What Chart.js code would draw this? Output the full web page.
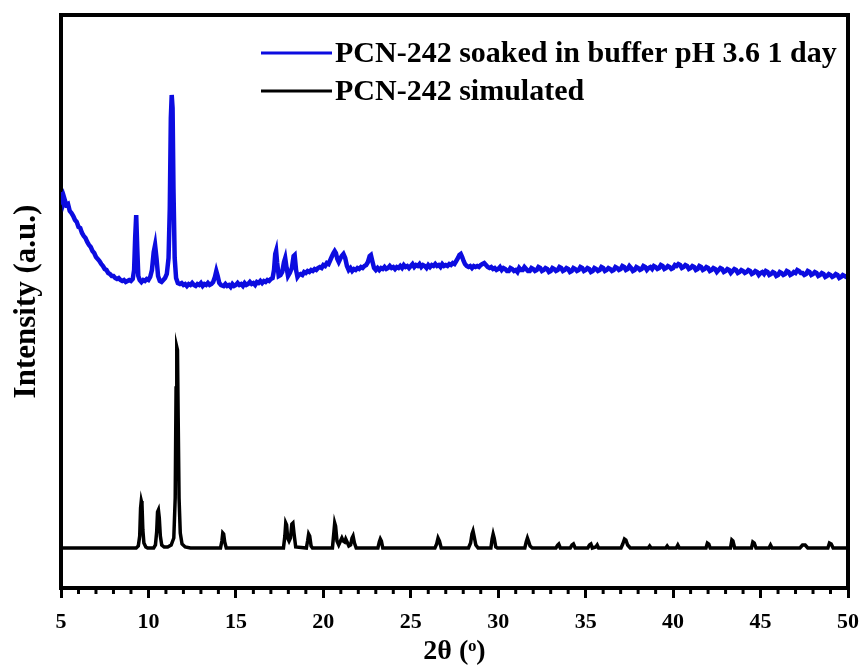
<!DOCTYPE html>
<html>
<head>
<meta charset="utf-8">
<script src="https://cdn.jsdelivr.net/npm/chart.js@4.4.1/dist/chart.umd.min.js"></script>
<style>
  html, body { margin: 0; padding: 0; background: #fff; }
  #wrap { width: 864px; height: 669px; }
</style>
</head>
<body>
<div id="wrap"><canvas id="xrdChart" width="864" height="669"></canvas></div>
<script>
// tick labels / axis range
const xTicks = [5, 10, 15, 20, 25, 30, 35, 40, 45, 50];
const seriesLabels = ['PCN-242 soaked in buffer pH 3.6 1 day', 'PCN-242 simulated'];

// measured pattern, [2theta, intensity a.u.]
const soaked = [
  [5.00,396],[5.05,390],[5.10,392],[5.15,386],[5.20,389],[5.30,383],[5.40,384],[5.50,377],[5.60,375],[5.70,372],
  [5.80,368],[5.90,366],[6.00,361],[6.10,360],[6.20,355],[6.30,352],[6.40,350],[6.50,346],[6.60,343],[6.70,341],
  [6.80,337],[6.90,335],[7.00,331],[7.10,329],[7.20,327],[7.30,324],[7.40,322],[7.50,319],[7.60,318],[7.70,315],
  [7.80,314],[7.90,312],[8.00,312],[8.10,310],[8.20,309],[8.30,310],[8.40,308],[8.50,307],[8.60,308],[8.70,306],
  [8.80,307],[8.90,308],[9.00,307],[9.10,309],[9.18,318],[9.24,350],[9.30,373],[9.36,340],[9.42,312],[9.50,308],
  [9.60,306],[9.70,308],[9.80,307],[9.90,309],[10.00,308],[10.10,311],[10.20,318],[10.30,336],[10.38,343],[10.46,330],
  [10.55,312],[10.65,307],[10.75,306],[10.85,308],[10.95,310],[11.05,314],[11.15,330],[11.22,380],[11.28,470],[11.33,493],
  [11.38,480],[11.43,400],[11.50,330],[11.58,310],[11.68,305],[11.80,304],[11.90,305],[12.00,303],[12.10,304],[12.20,302],
  [12.30,304],[12.40,303],[12.50,305],[12.60,303],[12.70,302],[12.80,304],[12.90,303],[13.00,305],[13.10,302],[13.20,304],
  [13.30,303],[13.40,305],[13.50,303],[13.60,304],[13.70,306],[13.80,311],[13.88,317],[13.96,312],[14.05,305],[14.15,303],
  [14.30,302],[14.40,304],[14.50,302],[14.60,303],[14.70,301],[14.80,304],[14.90,302],[15.00,303],[15.10,305],[15.20,303],
  [15.30,304],[15.40,302],[15.50,305],[15.60,303],[15.70,304],[15.80,306],[15.90,304],[16.00,305],[16.10,303],[16.20,306],
  [16.30,305],[16.40,307],[16.50,305],[16.60,307],[16.70,306],[16.80,308],[16.90,307],[17.00,309],[17.10,310],[17.18,318],
  [17.25,334],[17.30,337],[17.36,325],[17.45,312],[17.55,313],[17.65,316],[17.75,326],[17.82,330],[17.90,320],[17.98,312],
  [18.08,315],[18.20,320],[18.30,332],[18.36,333],[18.44,318],[18.52,311],[18.60,313],[18.70,314],[18.80,313],[18.90,316],
  [19.00,315],[19.10,317],[19.20,316],[19.30,318],[19.40,317],[19.50,319],[19.60,318],[19.70,320],[19.80,321],[19.90,320],
  [20.00,323],[20.10,322],[20.20,325],[20.30,324],[20.40,328],[20.50,332],[20.58,335],[20.65,337],[20.72,335],[20.80,329],
  [20.88,326],[20.96,329],[21.05,332],[21.15,334],[21.25,330],[21.35,322],[21.45,318],[21.55,320],[21.65,317],[21.75,319],
  [21.85,318],[21.95,320],[22.05,319],[22.15,321],[22.25,320],[22.35,322],[22.45,323],[22.55,326],[22.65,332],[22.72,333],
  [22.80,327],[22.90,320],[23.00,318],[23.10,320],[23.20,318],[23.30,320],[23.40,319],[23.50,321],[23.60,319],[23.70,320],
  [23.80,322],[23.90,320],[24.00,321],[24.10,319],[24.20,321],[24.30,320],[24.40,322],[24.50,320],[24.60,323],[24.70,321],
  [24.80,322],[24.90,320],[25.00,322],[25.10,324],[25.20,321],[25.30,323],[25.40,322],[25.50,324],[25.60,321],[25.70,323],
  [25.80,322],[25.90,320],[26.00,323],[26.10,321],[26.20,323],[26.30,322],[26.40,324],[26.50,322],[26.60,323],[26.70,321],
  [26.80,324],[26.90,322],[27.00,323],[27.10,322],[27.20,324],[27.30,323],[27.40,325],[27.50,324],[27.60,327],[27.70,330],
  [27.78,333],[27.86,334],[27.94,331],[28.02,327],[28.10,324],[28.20,322],[28.30,321],[28.40,322],[28.50,320],[28.60,322],
  [28.70,321],[28.80,322],[28.90,321],[29.00,323],[29.10,324],[29.20,325],[29.30,323],[29.40,321],[29.50,320],[29.60,321],
  [29.70,319],[29.80,320],[29.90,318],[30.00,319],[30.10,321],[30.20,318],[30.30,320],[30.40,319],[30.50,317],[30.60,317],
  [30.70,320],[30.80,319],[30.90,317],[31.00,318],[31.10,316],[31.20,320],[31.30,318],[31.40,318],[31.50,321],[31.60,319],
  [31.70,317],[31.80,317],[31.90,320],[32.00,319],[32.10,317],[32.20,318],[32.30,321],[32.40,320],[32.50,317],[32.60,318],
  [32.70,320],[32.80,319],[32.90,316],[33.00,317],[33.10,320],[33.20,319],[33.30,317],[33.40,318],[33.50,321],[33.60,320],
  [33.70,317],[33.80,318],[33.90,320],[34.00,319],[34.10,316],[34.20,317],[34.30,320],[34.40,319],[34.50,317],[34.60,318],
  [34.70,321],[34.80,320],[34.90,317],[35.00,318],[35.10,320],[35.20,319],[35.30,316],[35.40,317],[35.50,320],[35.60,319],
  [35.70,317],[35.80,318],[35.90,321],[36.00,320],[36.10,317],[36.20,318],[36.30,320],[36.40,319],[36.50,317],[36.60,318],
  [36.70,321],[36.80,320],[36.90,318],[37.00,319],[37.10,322],[37.20,321],[37.30,318],[37.40,319],[37.50,322],[37.60,320],
  [37.70,317],[37.80,318],[37.90,321],[38.00,320],[38.10,318],[38.20,319],[38.30,322],[38.40,321],[38.50,318],[38.60,320],
  [38.70,321],[38.80,319],[38.90,322],[39.00,321],[39.10,319],[39.20,320],[39.30,323],[39.40,322],[39.50,319],[39.60,320],
  [39.70,322],[39.80,321],[39.90,319],[40.00,320],[40.10,323],[40.20,322],[40.30,324],[40.40,323],[40.50,320],[40.60,321],
  [40.70,323],[40.80,322],[40.90,319],[41.00,320],[41.10,322],[41.20,321],[41.30,318],[41.40,319],[41.50,322],[41.60,321],
  [41.70,318],[41.80,319],[41.90,321],[42.00,320],[42.10,317],[42.20,318],[42.30,320],[42.40,319],[42.50,316],[42.60,318],
  [42.70,320],[42.80,319],[42.90,316],[43.00,317],[43.10,319],[43.20,318],[43.30,315],[43.40,317],[43.50,319],[43.60,318],
  [43.70,315],[43.80,316],[43.90,318],[44.00,317],[44.10,315],[44.20,316],[44.30,318],[44.40,317],[44.50,314],[44.60,315],
  [44.70,317],[44.80,316],[44.90,313],[45.00,315],[45.10,316],[45.20,314],[45.30,317],[45.40,316],[45.50,313],[45.60,314],
  [45.70,316],[45.80,315],[45.90,312],[46.00,313],[46.10,316],[46.20,315],[46.30,313],[46.40,314],[46.50,317],[46.60,316],
  [46.70,313],[46.80,314],[46.90,316],[47.00,315],[47.10,318],[47.20,317],[47.30,315],[47.40,315],[47.50,313],[47.60,314],
  [47.70,317],[47.80,316],[47.90,313],[48.00,314],[48.10,316],[48.20,315],[48.30,312],[48.40,313],[48.50,315],[48.60,314],
  [48.70,311],[48.80,312],[48.90,314],[49.00,313],[49.10,311],[49.20,312],[49.30,314],[49.40,313],[49.50,310],[49.60,311],
  [49.70,313],[49.80,312],[49.90,311],[50.00,313]
];

// simulated pattern, [2theta, intensity a.u.]
const simulated = [
  [5.0,40],[9.3,40],[9.42,42],[9.5,52],[9.55,80],[9.59,87],[9.63,84],[9.68,58],[9.74,45],[9.85,41],[9.95,40],
  [10.3,40],[10.4,43],[10.47,56],[10.52,76],[10.57,78],[10.62,70],[10.68,52],[10.76,43],[10.9,41],
  [11.1,41],[11.3,43],[11.45,50],[11.53,90],[11.58,200],[11.62,241],[11.66,238],[11.7,170],[11.75,90],[11.82,55],[11.92,44],[12.1,41],
  [12.4,40],[14.12,40],[14.2,47],[14.25,55],[14.3,54],[14.36,46],[14.45,40],
  [17.72,40],[17.8,52],[17.85,65],[17.9,63],[17.96,50],[18.04,47],[18.12,50],[18.2,64],[18.26,65],[18.32,55],[18.42,41],
  [19.03,40],[19.1,47],[19.16,54],[19.22,52],[19.3,42],[19.38,40],
  [20.52,40],[20.6,55],[20.65,65],[20.7,62],[20.78,47],[20.88,43],[20.98,47],[21.06,50],[21.14,47],[21.22,46],[21.28,49],[21.36,46],[21.46,42],
  [21.56,43],[21.64,50],[21.7,52],[21.78,45],[21.88,40],[23.12,40],[23.2,46],[23.26,49],[23.32,47],[23.4,40],
  [26.38,40],[26.48,44],[26.56,50],[26.64,47],[26.74,40],
  [28.3,40],[28.42,45],[28.5,54],[28.56,57],[28.62,52],[28.72,43],[28.85,40],
  [29.58,40],[29.65,49],[29.71,54],[29.77,50],[29.86,41],[29.95,40],
  [31.52,40],[31.6,46],[31.67,50],[31.73,47],[31.82,42],[31.95,40],
  [33.3,40],[33.4,43],[33.46,44],[33.55,40],[34.12,40],[34.22,43],[34.3,44],[34.4,40],
  [35.12,40],[35.22,43],[35.3,44],[35.38,40],[35.58,41],[35.66,43],[35.74,40],
  [37.02,40],[37.12,44],[37.22,49],[37.3,48],[37.4,43],[37.55,40],
  [38.58,40],[38.66,42],[38.74,40],[39.58,40],[39.66,42],[39.74,40],[40.18,40],[40.27,43],[40.36,40],
  [41.88,40],[41.96,45],[42.04,44],[42.12,40],[43.28,40],[43.36,48],[43.42,47],[43.52,40],
  [44.48,40],[44.56,46],[44.64,45],[44.74,40],[45.48,40],[45.57,43],[45.66,40],
  [47.25,40],[47.4,43],[47.55,43],[47.7,40],[48.85,40],[48.94,45],[49.04,44],[49.15,40],[50.0,40]
];

const serif = "'Liberation Serif', 'Times New Roman', serif";

// frame on top/right, minor ticks and the inset legend
const framePlugin = {
  id: 'frame',
  afterDraw(chart) {
    const ctx = chart.ctx;
    const a = chart.chartArea;
    const xs = chart.scales.x;
    ctx.save();
    ctx.strokeStyle = '#000';
    ctx.lineWidth = 4;
    ctx.beginPath();
    ctx.moveTo(a.left - 2, a.top);
    ctx.lineTo(a.right, a.top);
    ctx.lineTo(a.right, a.bottom + 2);
    ctx.stroke();

    ctx.lineWidth = 3;
    for (let v = xs.min + 1; v < xs.max; v++) {
      if (v % 5 === 0) continue;
      const px = xs.getPixelForValue(v);
      ctx.beginPath();
      ctx.moveTo(px, a.bottom);
      ctx.lineTo(px, a.bottom + 6);
      ctx.stroke();
    }

    ctx.font = 'bold 30px ' + serif;
    ctx.textBaseline = 'middle';
    ctx.fillStyle = '#000';
    chart.data.datasets.forEach((ds, i) => {
      const y = a.top + 38 + i * 38;
      ctx.strokeStyle = ds.borderColor;
      ctx.lineWidth = 3;
      ctx.beginPath();
      ctx.moveTo(a.left + 200, y);
      ctx.lineTo(a.left + 271, y);
      ctx.stroke();
      ctx.fillText(ds.label, a.left + 274, y + 1);
    });
    ctx.restore();
  }
};

new Chart(document.getElementById('xrdChart'), {
  type: 'line',
  data: {
    datasets: [
      {
        label: seriesLabels[0],
        data: soaked.map(p => ({ x: p[0], y: p[1] })),
        borderColor: '#0c0ce0',
        borderWidth: 4.5,
        pointRadius: 0,
        tension: 0
      },
      {
        label: seriesLabels[1],
        data: simulated.map(p => ({ x: p[0], y: p[1] })),
        borderColor: '#000000',
        borderWidth: 3.5,
        pointRadius: 0,
        tension: 0
      }
    ]
  },
  options: {
    responsive: false,
    animation: false,
    layout: { padding: { top: 15, right: 16, left: 0, bottom: 0 } },
    plugins: { legend: { display: false }, tooltip: { enabled: false } },
    scales: {
      x: {
        type: 'linear',
        min: xTicks[0],
        max: xTicks[xTicks.length - 1],
        afterFit(scale) {
          scale.height = 81;
          scale.paddingLeft = 0;
          scale.paddingRight = 0;
        },
        afterBuildTicks(scale) { scale.ticks = xTicks.map(v => ({ value: v })); },
        border: { display: true, color: '#000', width: 4 },
        grid: { drawOnChartArea: false, drawTicks: true, tickLength: 10, tickWidth: 3, tickColor: '#000' },
        ticks: {
          color: '#000',
          padding: 11,
          maxRotation: 0,
          font: { family: serif, size: 22, weight: 'bold' }
        },
        title: {
          display: true,
          text: '2θ (ᵒ)',
          color: '#000',
          padding: { top: 0, bottom: 0 },
          font: { family: serif, size: 28, weight: 'bold', lineHeight: 1.2 }
        }
      },
      y: {
        min: 0,
        max: 573,
        afterFit(scale) { scale.width = 61; },
        border: { display: true, color: '#000', width: 4 },
        grid: { display: true, drawOnChartArea: false, drawTicks: false },
        ticks: { display: false },
        title: {
          display: true,
          text: 'Intensity (a.u.)',
          color: '#000',
          padding: { top: 8, bottom: 0 },
          font: { family: serif, size: 31, weight: 'bold', lineHeight: 1.2 }
        }
      }
    }
  },
  plugins: [framePlugin]
});
</script>
</body>
</html>
